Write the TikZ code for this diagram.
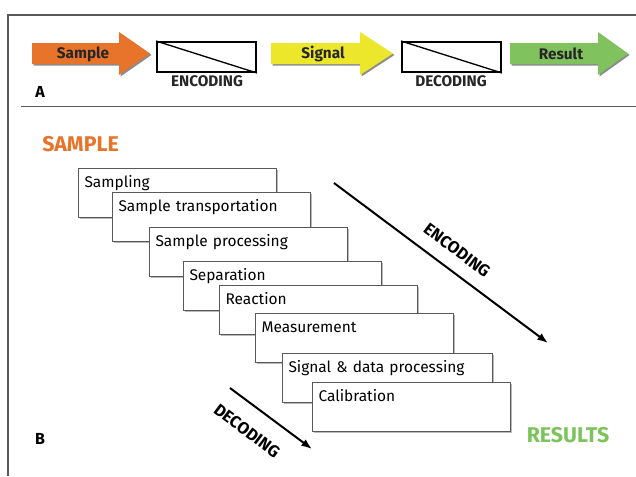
\documentclass[tikz,border=0pt]{standalone}
\usepackage{fontspec}
\setmainfont{Fira Sans}
\usetikzlibrary{arrows.meta,shadows}
\definecolor{sorange}{HTML}{E8732A}
\definecolor{syellow}{HTML}{EDE72C}
\definecolor{sgreen}{HTML}{80C35E}
\definecolor{rgreen}{HTML}{7DC35B}
\definecolor{framegray}{HTML}{5A5A5A}
\newcommand\flowarrow[4]{%
  \fill[black!45, shift={(1.5,1.5)}] (#1,43) -- (#2,43) -- (#2,32) -- (#3,53.5) -- (#2,75) -- (#2,64) -- (#1,64) -- cycle;
  \fill[#4] (#1,43) -- (#2,43) -- (#2,32) -- (#3,53.5) -- (#2,75) -- (#2,64) -- (#1,64) -- cycle;
}
\begin{document}
\begin{tikzpicture}[x=0.75pt,y=-0.75pt,
  stepbox/.style={draw=black!65, line width=0.75pt, fill=white, anchor=north west,
    minimum width=148.5pt, minimum height=36.75pt, text width=139.5pt,
    inner xsep=4.5pt, inner ysep=0pt, text height=14pt, text depth=22.75pt,
    align=left, font=\fontsize{11.6}{13}\selectfont,
    drop shadow={shadow xshift=1.2pt, shadow yshift=-1.2pt, fill=black!45, opacity=0.6}},
  codebox/.style={draw=black, line width=1.5pt, fill=white, minimum width=74.25pt,
    minimum height=22.5pt, inner sep=0pt},
  flowtext/.style={font=\bfseries\fontsize{11.5}{13}\selectfont, text=black!85},
  codelabel/.style={font=\bfseries\fontsize{11.5}{13}\selectfont, text=black!85},
  diaglabel/.style={font=\bfseries\fontsize{12.5}{14}\selectfont, rotate=-37},
  bigarrow/.style={line width=1.5pt, -{Latex[length=8pt,width=6pt]}}
]
\useasboundingbox (0,0) rectangle (636,476);
\fill[white] (0,0) rectangle (636,476);
% frame
\draw[framegray, line width=1pt] (8,476) -- (8,15) -- (636,15);
\draw[framegray, line width=0.75pt] (21,106) -- (636,106);

% Part A
\flowarrow{32}{119}{150}{sorange}
\flowarrow{271}{360}{393}{syellow}
\flowarrow{510}{598}{628}{sgreen}
\node[flowtext] (tsample) at (83,54) {Sample};
\node[flowtext] (tsignal) at (323,54) {Signal};
\node[flowtext] (tresult) at (561,54) {Result};

\node[codebox] (enc) at (206.5,57) {};
\draw[line width=1pt] (enc.north west) -- (enc.south east);
\node[codebox] (dec) at (451.5,57) {};
\draw[line width=1pt] (dec.north west) -- (dec.south east);
\node[codelabel] (enclabel) at (207,81) {ENCODING};
\node[codelabel] (declabel) at (451,81) {DECODING};
\node[font=\bfseries\fontsize{12}{14}\selectfont] (la) at (40,92) {A};

% Part B
\node[font=\bfseries\fontsize{16}{19}\selectfont, text=sorange] (hsample) at (80.5,144) {SAMPLE};
\node[font=\bfseries\fontsize{16}{19}\selectfont, text=rgreen] (hresults) at (568,435) {RESULTS};
\node[font=\fontsize{12}{14}\selectfont\bfseries] (lb) at (40,439) {B};

\node[stepbox] (s1) at (78,168) {Sampling};
\node[stepbox] (s2) at (112,192) {Sample transportation};
\node[stepbox] (s3) at (149,227) {Sample processing};
\node[stepbox] (s4) at (183,261) {Separation};
\node[stepbox] (s5) at (219,285) {Reaction};
\node[stepbox] (s6) at (255,313) {Measurement};
\node[stepbox, minimum width=157.5pt, text width=148.5pt] (s7) at (282,353) {Signal \& data processing};
\node[stepbox] (s8) at (312,382) {Calibration};

\coordinate (e1) at (334,183);
\coordinate (e2) at (548,343);
\draw[bigarrow] (e1) -- (e2);
\node[diaglabel] (enclab) at (457,250) {ENCODING};

\coordinate (d1) at (230,388);
\coordinate (d2) at (312,449);
\draw[bigarrow] (d1) -- (d2);
\node[diaglabel] (declab) at (247,431) {DECODING};
\end{tikzpicture}
\end{document}
